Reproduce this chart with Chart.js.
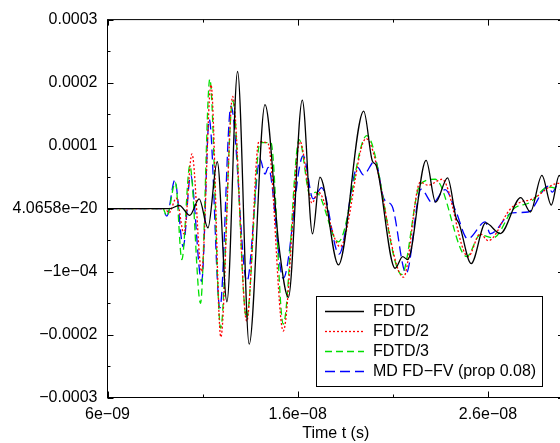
<!DOCTYPE html>
<html><head><meta charset="utf-8">
<script src="https://cdn.jsdelivr.net/npm/chart.js@4.4.0/dist/chart.umd.min.js"></script>
<style>
html,body{margin:0;padding:0;overflow:hidden;background:#fff;width:560px;height:443px}
#wrap{position:relative;width:570px;height:443px}
canvas{display:block}
</style>
</head><body><div id="wrap"><canvas id="c" width="570" height="443"></canvas></div>
<script>
// ---- data (time in ns, value in units of 1e-4) ----
const seriesNames = ['FDTD', 'FDTD/2', 'FDTD/3', 'MD FD\u2212FV (prop 0.08)'];

const fdtdT = [6, 9.28, 9.77, 10.33, 10.82, 11.28, 11.77, 12.28, 12.84, 13.45, 14.28, 15.02, 15.51, 16.24, 16.78, 17.17, 18.14, 19.47, 19.92, 20.13, 21.12, 21.52, 21.78, 22.75, 23.25, 23.88, 24.33, 24.49, 25.12, 25.88, 26.65, 27.73, 28.23, 28.84, 29.33, 29.75, 30];
const fdtdV = [0, 0, 0.05, -0.107, 0.154, -0.307, 0.743, -1.48, 2.176, -2.154, 1.65, -0.61, -1.41, 1.72, -0.40, 0.50, -0.894, 1.546, 0.76, 0.68, -0.948, -0.764, -0.81, 0.764, 0.102, 0.488, -0.15, -0.244, -0.874, -0.228, -0.397, 0.173, -0.055, 0.528, 0.055, 0.528, 0.34];

const fdtd2T = [6, 9.02, 9.23, 9.62, 10.02, 10.44, 10.95, 11.44, 11.96, 12.58, 13.32, 13.96, 14.44, 15.24, 16.12, 16.75, 17.08, 18.23, 19.59, 21.56, 22.44, 22.86, 23.59, 24.96, 25.59, 26.02, 27.17, 27.70, 28.33, 29.70, 30];
const fdtd2V = [0, 0, -0.07, 0.165, -0.40, 0.866, -1.0, 1.965, -2.04, 1.78, -1.79, 1.063, 1.03, -1.945, 1.063, 0.087, 0.26, -0.606, 1.11, -1.09, 0.417, 0.37, 0.465, -0.764, -0.40, -0.51, -0.01, 0.10, 0.15, 0.40, 0.37];

const fdtd3T = [6, 8.91, 9.12, 9.57, 9.91, 10.33, 10.89, 11.38, 11.95, 12.58, 13.31, 14.02, 14.59, 15.24, 16.08, 16.65, 16.96, 18.14, 19.63, 21.47, 22.44, 23.23, 24.89, 25.59, 26.28, 27.33, 28.23, 29.17, 30];
const fdtd3V = [0, 0, -0.12, 0.417, -0.81, 0.685, -1.504, 2.055, -1.90, 1.71, -1.74, 1.047, 1.047, -1.835, 1.094, 0.213, 0.26, -0.528, 1.157, -1.047, 0.386, 0.465, -0.764, -0.417, -0.465, -0.01, 0.10, 0.34, 0.29];

const mdT = [6, 8.86, 9.12, 9.54, 9.98, 10.37, 10.95, 11.35, 11.91, 12.49, 13.33, 14.02, 14.28, 14.45, 15.24, 16.29, 16.81, 17.26, 18.17, 19.15, 19.45, 20.07, 20.54, 20.96, 21.70, 22.49, 23.09, 23.75, 24.33, 24.94, 25.86, 26.12, 27.28, 28.12, 29.17, 29.38, 29.70, 30];
const mdV = [0, 0, -0.12, 0.449, -0.606, 0.532, -1.157, 1.414, -1.578, 1.625, -1.157, 0.784, 0.548, 0.654, -1.11, 0.838, 0.154, 0.331, -0.724, 0.654, 0.535, 0.759, 0.15, 0.04, -1.03, 0.307, 0.087, 0.30, -0.055, -0.48, -0.213, -0.40, -0.07, -0.055, 0.354, 0.26, 0.394, 0.34];

// ---- ticks ----
const xTickValues = [6, 11, 16, 21, 26];
const xTickLabels = ['6e\u221209', '', '1.6e\u221208', '', '2.6e\u221208'];
const yTickValues = [-3, -2.5, -2, -1.5, -1, -0.5, 0, 0.5, 1, 1.5, 2, 2.5, 3];
const yTickLabels = ['\u22120.0003', '', '\u22120.0002', '', '\u22121e\u221204', '', '4.0658e\u221220', '', '0.0001', '', '0.0002', '', '0.0003'];
const xTitle = 'Time t (s)';

const FONT = '"Liberation Sans", Arial, Helvetica, sans-serif';
const pts = (t, v) => t.map((x, i) => ({x: x, y: v[i]}));

const styles = [
  {color: '#000000', dash: []},
  {color: '#ff0000', dash: [2, 2]},
  {color: '#00e000', dash: [7, 4]},
  {color: '#0000ff', dash: [10, 5]}
];
const seriesData = [pts(fdtdT, fdtdV), pts(fdtd2T, fdtd2V), pts(fdtd3T, fdtd3V), pts(mdT, mdV)];

const framePlugin = {
  id: 'frame',
  afterDatasetsDraw(chart) {
    const {ctx, chartArea: a, scales: {x, y}} = chart;
    ctx.save();
    ctx.strokeStyle = '#000'; ctx.lineWidth = 1; ctx.setLineDash([]);
    ctx.strokeRect(a.left, a.top, a.right - a.left, a.bottom - a.top);
    const seg = (x1, y1, x2, y2) => { ctx.beginPath(); ctx.moveTo(x1, y1); ctx.lineTo(x2, y2); ctx.stroke(); };
    xTickValues.forEach((v, i) => {
      const px = Math.round(x.getPixelForValue(v)) + 0.5;
      const L = xTickLabels[i] ? 6 : 3;
      seg(px, a.bottom, px, a.bottom - L);
      seg(px, a.top, px, a.top + L);
    });
    yTickValues.forEach((v, i) => {
      const py = Math.round(y.getPixelForValue(v)) + 0.5;
      const L = yTickLabels[i] ? 6 : 3;
      seg(a.left, py, a.left + L, py);
      seg(a.right, py, a.right - L, py);
    });
    ctx.restore();
  },
  afterDraw(chart) {
    const ctx = chart.ctx;
    const o = chart.options.plugins.frame;
    ctx.save();
    ctx.fillStyle = '#fff';
    ctx.fillRect(o.left, o.top, o.width, o.height);
    ctx.strokeStyle = '#000'; ctx.lineWidth = 1; ctx.setLineDash([]);
    ctx.strokeRect(o.left + 0.5, o.top + 0.5, o.width, o.height);
    ctx.font = '16px ' + FONT;
    ctx.textBaseline = 'middle';
    ctx.textAlign = 'left';
    chart.data.datasets.forEach((ds, i) => {
      const yy = o.firstRow + i * o.rowH + 0.5;
      ctx.strokeStyle = ds.borderColor; ctx.lineWidth = ds.borderWidth;
      ctx.setLineDash(ds.borderDash || []);
      ctx.beginPath(); ctx.moveTo(o.sampleX1, yy); ctx.lineTo(o.sampleX2, yy); ctx.stroke();
      ctx.setLineDash([]);
      ctx.fillStyle = '#000';
      ctx.fillText(ds.label, o.textX, yy);
    });
    ctx.restore();
  }
};

new Chart(document.getElementById('c'), {
  type: 'line',
  data: {
    datasets: seriesNames.map((name, i) => ({
      label: name,
      data: seriesData[i],
      borderColor: styles[i].color,
      borderDash: styles[i].dash,
      borderWidth: 1.3,
      pointRadius: 0,
      fill: false,
      cubicInterpolationMode: 'monotone'
    }))
  },
  options: {
    responsive: false,
    animation: false,
    devicePixelRatio: 1,
    layout: {padding: {top: 16.5, right: 6, left: 0, bottom: 0}},
    plugins: {
      legend: {display: false},
      tooltip: {enabled: false},
      frame: {left: 316, top: 296, width: 226, height: 90, firstRow: 311, rowH: 20, sampleX1: 325, sampleX2: 364, textX: 373}
    },
    scales: {
      x: {
        type: 'linear', min: 6, max: 30,
        grid: {display: false, drawTicks: false},
        border: {display: false},
        afterBuildTicks(s) { s.ticks = xTickValues.map(v => ({value: v})); },
        ticks: {autoSkip: false, maxRotation: 0, padding: 7, color: '#000',
          font: {family: FONT, size: 16}, callback: (v, i) => xTickLabels[i]},
        title: {display: true, text: xTitle, color: '#000', font: {family: FONT, size: 16}, padding: {top: 0, bottom: 0}},
        afterFit(s) { s.height = 45.5; }
      },
      y: {
        type: 'linear', min: -3, max: 3,
        grid: {display: false, drawTicks: false},
        border: {display: false},
        afterBuildTicks(s) { s.ticks = yTickValues.map(v => ({value: v})); },
        ticks: {autoSkip: false, padding: 10, color: '#000',
          font: {family: FONT, size: 16}, callback: (v, i) => yTickLabels[i]},
        afterFit(s) { s.width = 107.5; }
      }
    }
  },
  plugins: [framePlugin]
});
</script></body></html>
